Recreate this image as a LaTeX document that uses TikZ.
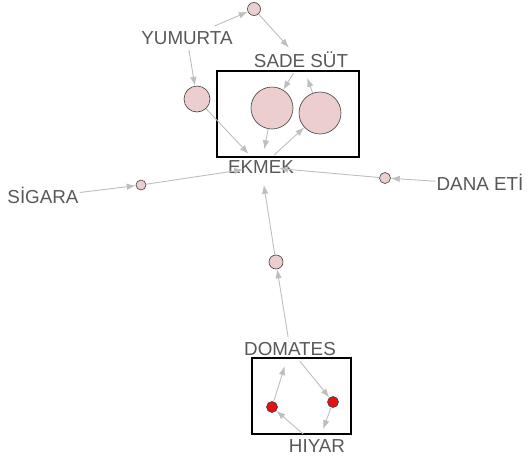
\documentclass[tikz,border=0pt]{standalone}
\usepackage{fontspec}
\setmainfont{Liberation Sans}
\usetikzlibrary{arrows.meta}
\definecolor{itemtxt}{RGB}{88,88,88}
\definecolor{edgegray}{RGB}{190,190,190}
\definecolor{rulepink}{RGB}{236,206,206}
\definecolor{rulered}{RGB}{228,18,18}
\tikzset{
  it/.style={inner xsep=1pt,inner ysep=5pt,text height=13.5pt,text depth=0pt,
    text=itemtxt,font=\fontsize{18.8}{20}\selectfont},
  rl/.style={circle,draw=black!75,fill=rulepink,line width=0.6pt,inner sep=0pt},
  rd/.style={rl,fill=rulered,minimum size=11pt},
  ed/.style={-{Latex[length=9pt,width=6.5pt]},draw=edgegray,line width=0.9pt},
  ein/.style={ed,shorten >=18pt},
  bx/.style={draw=black,line width=2.3pt},
}

\begin{document}
\begin{tikzpicture}[x=1pt,y=-1pt]
  \useasboundingbox (0,0) rectangle (527,461);

  % items
  \node[it] (yum) at (187,38) {YUMURTA};
  \node[it] (sut) at (301,61) {SADE SÜT};
  \node[it] (ekm) at (261,167) {EKMEK};
  \node[it] (sig) at (43,197) {SİGARA};
  \node[it] (dan) at (480,184) {DANA ETİ};
  \node[it] (dom) at (290,349) {DOMATES};
  \node[it] (hiy) at (317,446) {HIYAR};

  % rules
  \node[rl,minimum size=13pt] (r1) at (254,9) {};
  \node[rl,minimum size=26pt] (r2) at (197,99) {};
  \node[rl,minimum size=42pt] (r3) at (272,108) {};
  \node[rl,minimum size=42pt] (r4) at (320,113) {};
  \node[rl,minimum size=10pt] (r5) at (141,185) {};
  \node[rl,minimum size=11pt] (r6) at (385,178) {};
  \node[rl,minimum size=14pt] (r7) at (276,262) {};
  \node[rd] (r8) at (272,407) {};
  \node[rd] (r9) at (333,402) {};

  % groups
  \draw[bx] (217,71) rectangle (359,157);
  \draw[bx] (252,358) rectangle (351,434);

  % lhs -> rule
  \draw[ed] (yum) -- (r1);
  \draw[ed] (yum) -- (r2);
  \draw[ed] (sut) -- (r3);
  \draw[ed] (ekm) -- (r4);
  \draw[ed] (sig) -- (r5);
  \draw[ed] (dan) -- (r6);
  \draw[ed] (dom) -- (r7);
  \draw[ed] (hiy) -- (r8);
  \draw[ed] (dom) -- (r9);

  % rule -> rhs
  \draw[ein] (r1) -- (sut.center);
  \draw[ein] (r2) -- (ekm.center);
  \draw[ein] (r3) -- (ekm.center);
  \draw[ein] (r4) -- (sut.center);
  \draw[ein] (r5) -- (ekm.center);
  \draw[ein] (r6) -- (ekm.center);
  \draw[ein] (r7) -- (ekm.center);
  \draw[ein] (r8) -- (dom.center);
  \draw[ein] (r9) -- (hiy.center);
\end{tikzpicture}
\end{document}
